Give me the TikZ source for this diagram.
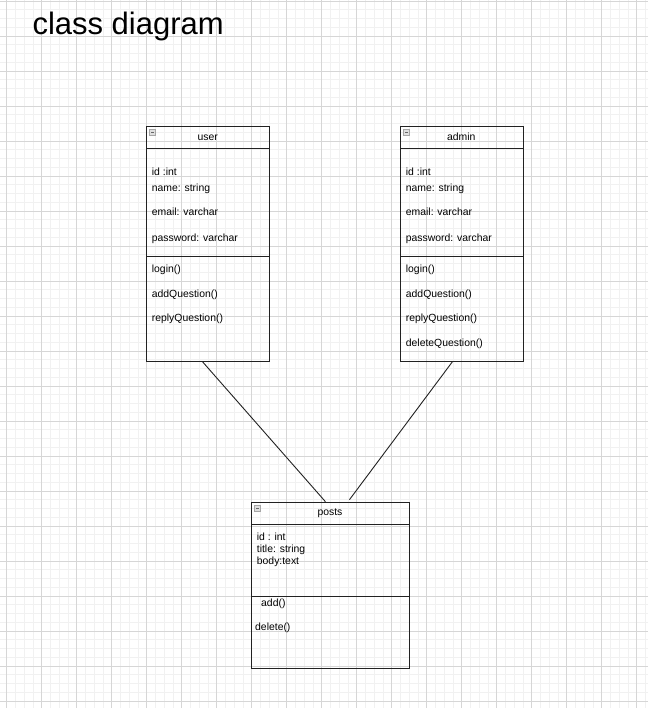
\documentclass[tikz,border=0pt]{standalone}
\usepackage{fontspec}
\setmainfont{Liberation Sans}
\definecolor{minorgrid}{HTML}{F1F1F1}
\definecolor{majorgrid}{HTML}{D6D6D6}
\definecolor{boxline}{HTML}{222222}
\begin{document}
\begin{tikzpicture}[x=1pt,y=-1pt,
  umlbox/.style={draw=boxline, line width=0.9pt, anchor=north west, inner sep=0pt},
  sep/.style={draw=boxline, line width=0.9pt},
  txt/.style={anchor=base west, inner sep=0pt, font=\fontsize{10.4}{12}\selectfont},
  head/.style={anchor=base, inner sep=0pt, font=\fontsize{10.4}{12}\selectfont},
  icon/.style={draw=gray!70, fill=gray!25, line width=0.5pt, minimum size=6pt, inner sep=0pt,
    path picture={\draw[gray!80!black, line width=0.6pt] ([xshift=1.3pt]path picture bounding box.west) -- ([xshift=-1.3pt]path picture bounding box.east);}},
  conn/.style={draw=boxline, line width=0.9pt}
]
\useasboundingbox (0,0) rectangle (648,708);
\fill[white] (0,0) rectangle (648,708);
% grid
\foreach \i in {0,...,73} \draw[minorgrid, line width=0.9pt] ({6.7+8.75*\i},0) -- ({6.7+8.75*\i},708);
\foreach \i in {0,...,80} \draw[minorgrid, line width=0.9pt] (0,{1+8.75*\i}) -- (648,{1+8.75*\i});
\foreach \i in {0,...,18} \draw[majorgrid, line width=0.9pt] ({6.7+35*\i},0) -- ({6.7+35*\i},708);
\foreach \i in {0,...,20} \draw[majorgrid, line width=0.9pt] (0,{1+35*\i}) -- (648,{1+35*\i});

% title
\node[anchor=base west, inner sep=0pt, font=\fontsize{31}{36}\selectfont] (title) at (32.3,35) {class diagram};

% user
\node[umlbox, minimum width=123.3pt, minimum height=235pt] (user) at (146,125.7) {};
\draw[sep] ([yshift=-22.6pt]user.north west) -- ([yshift=-22.6pt]user.north east);
\draw[sep] ([yshift=-131pt]user.north west) -- ([yshift=-131pt]user.north east);
\node[icon] (usericon) at (152.7,132.2) {};
\node[head] (usertitle) at (207.7,141) {user};
\node[txt] (u1) at (151.7,176) {id :int};
\node[txt] (u2) at (151.7,192) {name: string};
\node[txt] (u3) at (151.7,216) {email: varchar};
\node[txt] (u4) at (151.7,241) {password: varchar};
\node[txt] (u5) at (151.7,272) {login()};
\node[txt] (u6) at (151.7,297) {addQuestion()};
\node[txt] (u7) at (151.7,321) {replyQuestion()};

% admin
\node[umlbox, minimum width=122.7pt, minimum height=235pt] (admin) at (400,125.7) {};
\draw[sep] ([yshift=-22.6pt]admin.north west) -- ([yshift=-22.6pt]admin.north east);
\draw[sep] ([yshift=-131pt]admin.north west) -- ([yshift=-131pt]admin.north east);
\node[icon] (adminicon) at (406.7,132.2) {};
\node[head] (admintitle) at (461.3,141) {admin};
\node[txt] (a1) at (405.7,176) {id :int};
\node[txt] (a2) at (405.7,192) {name: string};
\node[txt] (a3) at (405.7,216) {email: varchar};
\node[txt] (a4) at (405.7,241) {password: varchar};
\node[txt] (a5) at (405.7,272) {login()};
\node[txt] (a6) at (405.7,297) {addQuestion()};
\node[txt] (a7) at (405.7,321) {replyQuestion()};
\node[txt] (a8) at (405.7,346) {deleteQuestion()};

% posts
\node[umlbox, minimum width=158pt, minimum height=166pt] (posts) at (251,501.7) {};
\draw[sep] ([yshift=-22.6pt]posts.north west) -- ([yshift=-22.6pt]posts.north east);
\draw[sep] ([yshift=-94.3pt]posts.north west) -- ([yshift=-94.3pt]posts.north east);
\node[icon] (postsicon) at (257.7,508) {};
\node[head] (poststitle) at (330,515.5) {posts};
\node[txt] (p1) at (256.7,540) {id : int};
\node[txt] (p2) at (256.7,552) {title: string};
\node[txt] (p3) at (256.7,564) {body:text};
\node[txt] (p4) at (261,606) {add()};
\node[txt] (p5) at (255,630) {delete()};

% connectors
\draw[conn] ([xshift=-5.7pt]user.south) -- ([xshift=-5pt]posts.north);
\draw[conn] ([xshift=-9.3pt]admin.south) -- ([xshift=19pt,yshift=2pt]posts.north);
\end{tikzpicture}
\end{document}
